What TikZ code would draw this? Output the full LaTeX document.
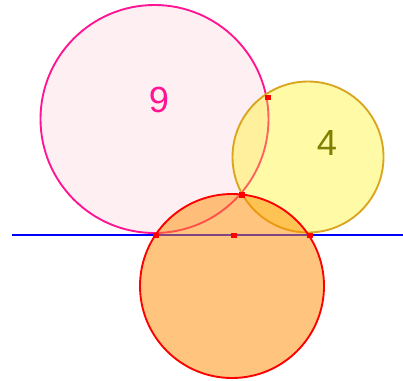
\documentclass[tikz,border=0pt]{standalone}
\usepackage{fontspec}
\setsansfont{Liberation Sans}
\definecolor{pinkline}{RGB}{255,20,147}
\definecolor{pinkfill}{RGB}{250,190,205}
\definecolor{goldline}{RGB}{218,165,32}
\definecolor{olivetext}{RGB}{128,128,0}
\definecolor{darkorng}{RGB}{255,140,0}
\begin{document}
\begin{tikzpicture}[x=0.03cm,y=-0.03cm,
    disk/.style={line width=1.6pt},
    dotpt/.style={fill=red,inner sep=0pt,minimum size=0.16cm},
    bignum/.style={font=\sffamily\fontsize{31}{31}\selectfont}]
    \useasboundingbox (0,0) rectangle (403,380);
    % circles
    \draw[disk,pinkline,fill=pinkfill,fill opacity=0.25] (154.5,119) circle [radius=114];
    \draw[disk,goldline,fill=yellow,fill opacity=0.35] (308,157) circle [radius=75.5];
    \coordinate (lineL) at (12,234.5);
    \coordinate (lineR) at (403,234.5);
    \draw[blue,line width=1.7pt] (lineL) -- (lineR);
    \draw[disk,red,fill=darkorng,fill opacity=0.5] (232,286) circle [radius=92];
    % points
    \node[dotpt] (tA) at (156,235.5) {};
    \node[dotpt] (tM) at (234,235.5) {};
    \node[dotpt] (tB) at (310,235.5) {};
    \node[dotpt] (iLow) at (242,195) {};
    \node[dotpt] (iUp) at (268,97.5) {};
    % labels
    \node[bignum,pinkline] (nine) at (159,100) {9};
    \node[bignum,olivetext] (four) at (327,143) {4};
\end{tikzpicture}
\end{document}
